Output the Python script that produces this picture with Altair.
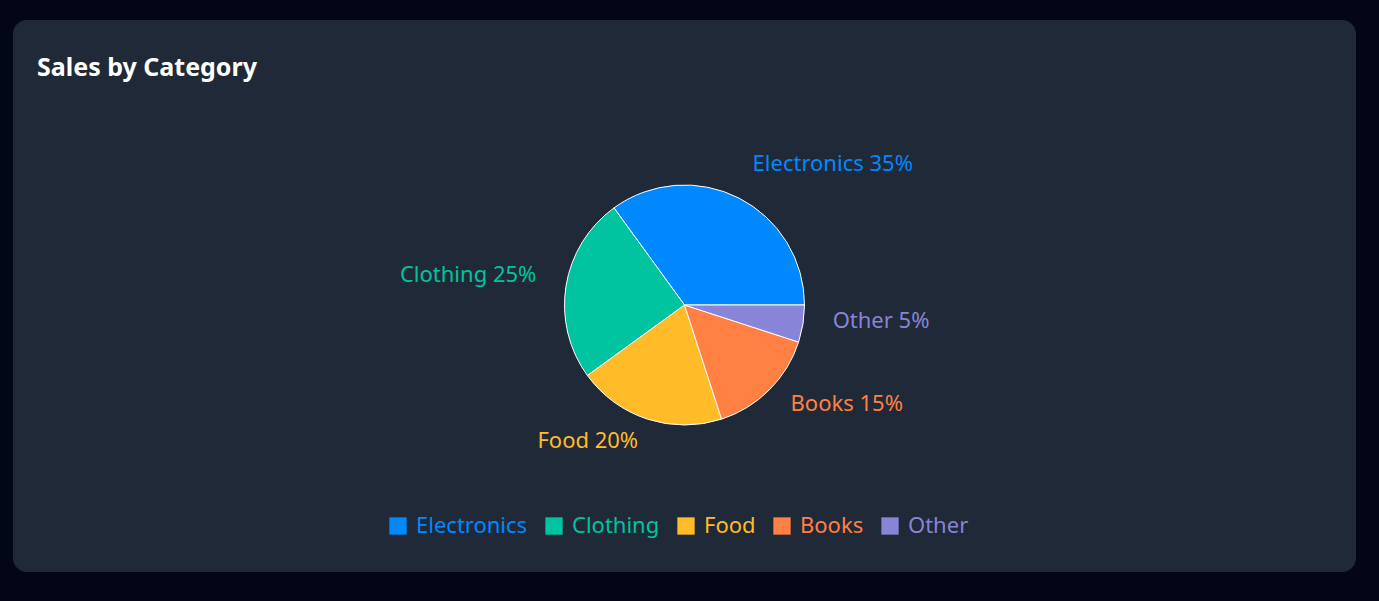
import math
import altair as alt
import pandas as pd

# ---- data ----
categories = ["Electronics", "Clothing", "Food", "Books", "Other"]
values = [35, 25, 20, 15, 5]
colors = ["#0088FE", "#00C49F", "#FFBB28", "#FF8042", "#8884D8"]
title_text = ["Sales by Category"]

total = sum(values)
df = pd.DataFrame({"category": categories, "value": values, "idx": list(range(len(categories)))})

FONT = "Noto Sans"
W, H = 1343, 570
PAD = {"left": 13, "top": 20, "right": 23, "bottom": 11}

theta_scale = alt.Scale(domain=[0, total], range=[2.5 * math.pi, 0.5 * math.pi])
color_scale = alt.Scale(domain=categories, range=colors)

# card background
card = alt.Chart(pd.DataFrame({"c": [0]})).mark_rect(
    color="#1f2937", cornerRadius=14
).encode(x=alt.value(0), x2=alt.value(W), y=alt.value(0), y2=alt.value(552))

arcs = alt.Chart(df).mark_arc(outerRadius=120, stroke="#ffffff", strokeWidth=1).encode(
    theta=alt.Theta("value:Q", stack=True, scale=theta_scale),
    order=alt.Order("idx:Q"),
    color=alt.Color(
        "category:N",
        scale=color_scale,
        sort=categories,
        legend=alt.Legend(
            title=None,
            orient="none",
            direction="horizontal",
            legendX=374,
            legendY=495,
            symbolType="square",
            symbolSize=300,
            symbolStrokeWidth=0,
            labelFont=FONT,
            labelFontSize=22,
            labelOffset=7,
            columnPadding=15,
            padding=0,
            labelColor=alt.ExprRef(expr="scale('color', datum.value)"),
            labelLimit=300,
        ),
    ),
)

labels_base = (
    alt.Chart(df)
    .transform_window(cum="sum(value)", sort=[alt.SortField("idx")])
    .transform_calculate(
        mid="datum.cum - datum.value / 2",
        label="datum.category + ' ' + datum.value + '%'",
    )
    .transform_calculate(right=f"(datum.mid / {total} < 0.25 || datum.mid / {total} > 0.75) ? 1 : 0")
)

def label_layer(side, align):
    return labels_base.transform_filter(f"datum.right == {side}").mark_text(
        radius=150, align=align, baseline="alphabetic", font=FONT, fontSize=22
    ).encode(
        theta=alt.Theta("mid:Q", stack=None, scale=theta_scale),
        text="label:N",
        color=alt.Color("category:N", scale=color_scale, legend=None),
    )

labels_right = label_layer(1, "left")
labels_left = label_layer(0, "right")

title = alt.Chart(pd.DataFrame({"t": title_text})).mark_text(
    align="left", baseline="alphabetic", font=FONT, fontSize=25, fontWeight="bold", color="#ffffff"
).encode(x=alt.value(24), y=alt.value(56), text="t:N")

chart = (
    alt.layer(card, arcs, labels_right, labels_left, title)
    .properties(
        width=W,
        height=H,
        background="#020617",
        padding=PAD,
        autosize=alt.AutoSizeParams(type="none"),
    )
    .configure_view(stroke=None)
)

chart.save("out.html", embed_options={"renderer": "svg", "actions": False})
